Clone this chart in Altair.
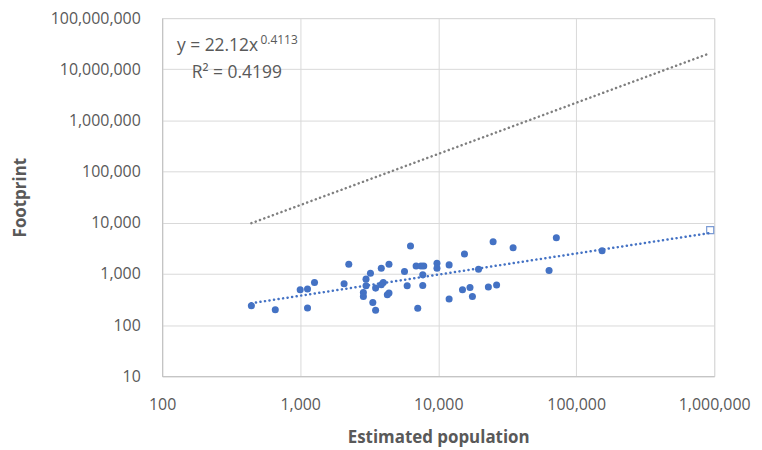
import altair as alt
import pandas as pd

# Observed data (estimated population vs footprint)
population = [443, 660, 1000, 1130, 1270, 1130, 2250, 2080, 3000, 3230,
              3000, 2870, 2870, 3360, 3520, 3520, 3870, 4400, 4000, 3870,
              4280, 4400, 6300, 5700, 5960, 6920, 7510, 7860, 7730, 7730,
              7110, 9800, 9800, 12000, 15500, 19600, 25000, 34900, 12000, 15000,
              17000, 17700, 23100, 26500, 71800, 63600, 154000]
footprint = [239, 200, 490, 505, 680, 216, 1540, 640, 790, 1030,
             585, 434, 362, 277, 194, 527, 1290, 1540, 678, 611,
             391, 422, 3500, 1110, 585, 1430, 1430, 1430, 957, 593,
             212, 1610, 1290, 1500, 2440, 1230, 4240, 3240, 323, 489,
             542, 362, 552, 607, 5070, 1170, 2830]

# Fitted power trend (blue dotted) endpoints
trend_x = [443, 935000]
trend_y = [267, 6300]
# Grey dotted reference line endpoints
ref_x = [443, 935000]
ref_y = [9800, 20700000]
# Hollow square marker at end of trend
end_x = [935000]
end_y = [7150]

x_ticks = [100, 1000, 10000, 100000, 1000000]
y_ticks = [10, 100, 1000, 10000, 100000, 1000000, 10000000, 100000000]

FONT = "Open Sans"
GREY = "#595959"
BLUE = "#4472C4"

pts = pd.DataFrame({"pop": population, "fp": footprint})
trend = pd.DataFrame({"pop": trend_x, "fp": trend_y})
ref = pd.DataFrame({"pop": ref_x, "fp": ref_y})
endpt = pd.DataFrame({"pop": end_x, "fp": end_y})

xscale = alt.Scale(type="log", domain=[100, 1000000], nice=False)
yscale = alt.Scale(type="log", domain=[10, 100000000], nice=False)

xenc = alt.X("pop:Q", scale=xscale, title="Estimated population",
             axis=alt.Axis(values=x_ticks, format=",", tickSize=0, labelPadding=20,
                           labelFlush=False, titleY=62, titleBaseline="middle"))
yenc = alt.Y("fp:Q", scale=yscale, title="Footprint",
             axis=alt.Axis(values=y_ticks, format=",", tickSize=0, labelPadding=22,
                           labelFlush=False,
                           titleX=-142, titleY=180, titleAlign="center",
                           titleBaseline="middle"))

base_pts = alt.Chart(pts).mark_circle(size=50, color=BLUE, opacity=1).encode(x=xenc, y=yenc)

ref_line = alt.Chart(ref).mark_line(color="#7f7f7f", strokeWidth=2.5,
                                    strokeDash=[0.1, 4.5], strokeCap="round").encode(
    x="pop:Q", y="fp:Q")

trend_line = alt.Chart(trend).mark_line(color=BLUE, strokeWidth=2.5,
                                        strokeDash=[0.1, 4.5], strokeCap="round").encode(
    x="pop:Q", y="fp:Q")

end_mark = alt.Chart(endpt).mark_point(shape="square", filled=False, color=BLUE,
                                       size=50, strokeWidth=1.2).encode(x="pop:Q", y="fp:Q")

eq_df = pd.DataFrame({"pop": [128], "fp": [28000000], "t": ["y = 22.12x"]})
sup_df = pd.DataFrame({"pop": [128], "fp": [28000000], "t": ["0.4113"]})
r2_df = pd.DataFrame({"pop": [164], "fp": [8500000], "t": ["R² = 0.4199"]})

eq_text = alt.Chart(eq_df).mark_text(align="left", baseline="middle", font=FONT,
                                     fontSize=17.5, color=GREY).encode(x="pop:Q", y="fp:Q", text="t:N")
sup_text = alt.Chart(sup_df).mark_text(align="left", baseline="middle", font=FONT,
                                       fontSize=12, color=GREY, dx=84, dy=-6).encode(
    x="pop:Q", y="fp:Q", text="t:N")
r2_text = alt.Chart(r2_df).mark_text(align="left", baseline="middle", font=FONT,
                                     fontSize=17.5, color=GREY).encode(x="pop:Q", y="fp:Q", text="t:N")

chart = alt.layer(ref_line, trend_line, base_pts, end_mark, eq_text, sup_text, r2_text).properties(
    width=555, height=360,
    autosize=alt.AutoSizeParams(type="none"),
    padding={"left": 155, "top": 9, "right": 40, "bottom": 70},
).configure_view(
    stroke="#d9d9d9", strokeWidth=1
).configure_axis(
    labelFont=FONT, labelFontSize=16, labelColor=GREY,
    titleFont=FONT, titleFontSize=17, titleColor=GREY, titleFontWeight="bold",
    gridColor="#d9d9d9", gridWidth=1, domainColor="#bfbfbf", domainWidth=1,
)

chart.save("out.html", embed_options={"renderer": "svg", "actions": False})
